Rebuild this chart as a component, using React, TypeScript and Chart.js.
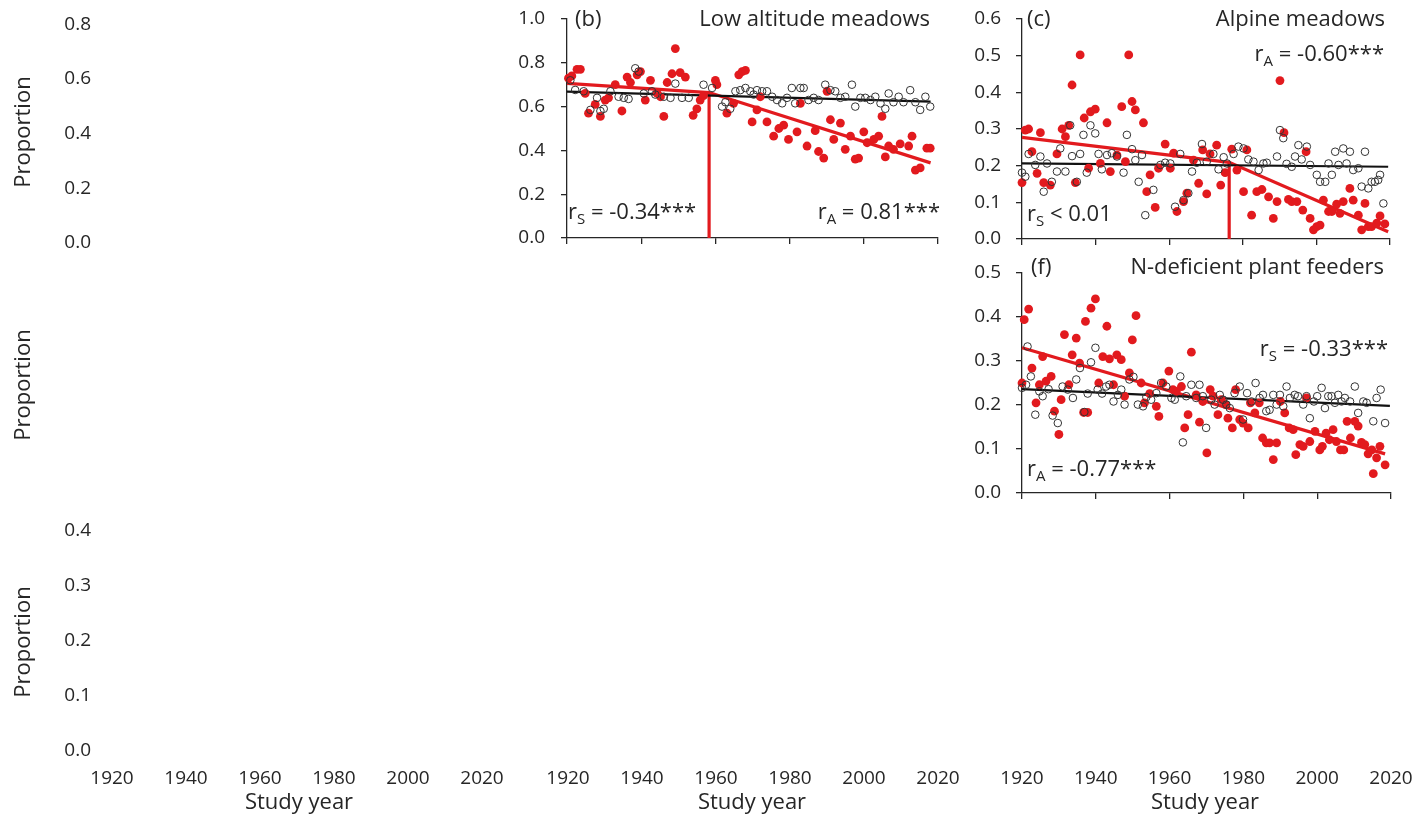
import React, { useEffect, useRef } from "react";
import { Chart, registerables } from "chart.js";
Chart.register(...registerables);

const FONT = "'Open Sans', 'Noto Sans', sans-serif";
const RED = "rgb(226, 26, 30)";
const INK = "#262626";

// ---------- Panel (b) Low altitude meadows ----------
const bRedYears = [1920.4,1921.3,1922.7,1923.6,1924.9,1925.8,1927.6,1929.0,1930.3,1931.2,1933.0,1934.8,1936.2,1937.1,1938.9,1939.8,1941.1,1942.5,1944.3,1945.2,1946.1,1947.0,1948.3,1949.2,1950.5,1951.9,1954.0,1955.0,1955.9,1956.8,1960.0,1960.4,1963.1,1964.9,1966.3,1967.2,1968.1,1969.9,1971.2,1972.1,1973.9,1975.7,1977.1,1978.4,1979.7,1982.0,1982.9,1984.7,1986.9,1987.8,1989.2,1990.1,1991.0,1991.9,1993.7,1995.0,1996.4,1997.7,1998.6,2000.0,2000.9,2002.7,2004.0,2004.9,2005.8,2006.7,2008.0,2009.8,2012.1,2013.0,2013.9,2015.2,2017.0,2017.9];
const bRedValues = [0.73,0.74,0.77,0.77,0.66,0.57,0.61,0.555,0.63,0.64,0.70,0.58,0.735,0.71,0.745,0.76,0.63,0.72,0.66,0.645,0.555,0.71,0.75,0.865,0.755,0.735,0.56,0.59,0.63,0.65,0.72,0.70,0.57,0.615,0.745,0.76,0.765,0.53,0.585,0.645,0.53,0.465,0.50,0.515,0.45,0.485,0.615,0.42,0.49,0.395,0.365,0.67,0.54,0.45,0.525,0.405,0.465,0.36,0.365,0.485,0.435,0.45,0.465,0.555,0.37,0.42,0.405,0.43,0.42,0.465,0.31,0.32,0.41,0.41];
const bOpenYears = [1920.9,1922.2,1924.5,1926.3,1928.1,1929.0,1929.9,1931.7,1933.9,1935.3,1936.6,1938.4,1939.3,1940.7,1942.9,1943.8,1946.1,1947.9,1949.2,1951.0,1952.8,1956.8,1959.1,1961.8,1962.7,1964.0,1965.4,1966.7,1968.1,1969.4,1970.3,1971.2,1972.6,1973.9,1975.3,1976.6,1978.0,1979.3,1980.6,1981.5,1982.9,1983.8,1985.1,1986.5,1987.8,1989.6,1991.0,1992.3,1993.7,1995.0,1996.8,1997.7,1999.1,2000.4,2001.8,2003.1,2004.5,2005.8,2006.7,2008.0,2009.4,2010.7,2012.5,2013.9,2015.2,2016.6,2017.9];
const bOpenValues = [0.72,0.676,0.67,0.585,0.64,0.58,0.59,0.67,0.645,0.64,0.635,0.775,0.76,0.66,0.67,0.655,0.645,0.64,0.705,0.64,0.64,0.70,0.685,0.60,0.62,0.59,0.67,0.675,0.685,0.67,0.655,0.675,0.67,0.67,0.645,0.63,0.615,0.64,0.685,0.615,0.685,0.685,0.63,0.64,0.63,0.70,0.675,0.67,0.64,0.645,0.70,0.60,0.64,0.64,0.63,0.645,0.615,0.59,0.66,0.62,0.645,0.62,0.675,0.62,0.585,0.645,0.60];
const bBlackFitYears = [1920, 2018];
const bBlackFitValues = [0.668, 0.623];
const bRedFitYears = [1920, 1958.3, 2018];
const bRedFitValues = [0.706, 0.664, 0.343];
const bBreakYears = [1958.3, 1958.3];
const bBreakValues = [0, 0.664];

// ---------- Panel (c) Alpine meadows ----------
const cRedYears = [1920.0,1920.9,1921.8,1922.7,1924.1,1925.0,1925.9,1927.7,1929.5,1930.9,1931.8,1932.7,1933.6,1934.5,1935.8,1936.9,1938.1,1938.6,1939.9,1941.3,1943.1,1944.0,1945.8,1947.1,1948.1,1949.0,1949.9,1950.8,1953.0,1953.9,1954.8,1956.2,1957.1,1958.9,1960.3,1961.2,1962.1,1963.9,1964.8,1966.6,1968.0,1969.1,1970.2,1971.1,1972.9,1974.0,1975.2,1977.0,1978.4,1980.2,1981.1,1982.4,1983.8,1985.2,1987.0,1988.3,1989.3,1990.1,1991.2,1992.4,1993.3,1994.7,1996.3,1997.2,1998.3,1999.2,2000.1,2001.0,2001.9,2003.3,2004.2,2005.5,2006.4,2007.3,2009.1,2010.0,2011.4,2012.3,2013.2,2014.1,2015.0,2016.4,2017.3,2018.6];
const cRedValues = [0.154,0.297,0.30,0.238,0.179,0.29,0.154,0.147,0.232,0.30,0.279,0.31,0.42,0.154,0.502,0.33,0.193,0.347,0.354,0.206,0.317,0.184,0.229,0.361,0.211,0.502,0.375,0.352,0.317,0.129,0.175,0.086,0.193,0.259,0.193,0.234,0.075,0.102,0.125,0.215,0.152,0.243,0.123,0.232,0.256,0.147,0.181,0.245,0.188,0.129,0.243,0.065,0.129,0.135,0.115,0.056,0.102,0.432,0.29,0.108,0.102,0.102,0.079,0.238,0.056,0.025,0.034,0.038,0.106,0.075,0.075,0.095,0.07,0.102,0.138,0.106,0.065,0.025,0.097,0.034,0.034,0.043,0.063,0.041];
const cOpenYears = [1920.0,1920.9,1921.8,1923.6,1925.0,1925.9,1926.8,1928.1,1929.5,1930.4,1931.8,1933.1,1933.6,1934.9,1935.8,1936.7,1937.6,1938.6,1939.9,1940.8,1941.7,1943.1,1944.4,1945.8,1947.6,1948.5,1949.9,1950.8,1951.7,1952.6,1953.5,1955.7,1957.6,1958.9,1960.3,1961.6,1963.0,1963.9,1965.2,1966.2,1967.5,1968.9,1970.2,1972.0,1973.4,1974.8,1975.7,1977.5,1978.8,1980.2,1981.5,1982.9,1984.3,1985.6,1986.5,1989.3,1990.1,1991.0,1991.9,1993.3,1994.2,1995.1,1996.0,1997.4,1998.3,2000.1,2001.0,2002.4,2003.3,2004.2,2005.1,2006.0,2007.3,2008.2,2009.1,2010.0,2011.4,2012.3,2013.2,2014.1,2015.0,2015.9,2016.8,2017.3,2018.2];
const cOpenValues = [0.181,0.17,0.232,0.202,0.225,0.129,0.206,0.156,0.184,0.247,0.184,0.31,0.226,0.156,0.232,0.284,0.181,0.31,0.288,0.232,0.19,0.229,0.234,0.225,0.181,0.284,0.245,0.215,0.156,0.229,0.065,0.134,0.202,0.208,0.206,0.088,0.232,0.106,0.125,0.184,0.208,0.259,0.211,0.232,0.19,0.223,0.206,0.232,0.252,0.247,0.217,0.211,0.188,0.206,0.208,0.225,0.297,0.275,0.205,0.197,0.225,0.256,0.217,0.252,0.202,0.175,0.156,0.156,0.206,0.175,0.238,0.202,0.247,0.206,0.238,0.188,0.193,0.143,0.238,0.138,0.156,0.156,0.161,0.175,0.097];
const cBlackFitYears = [1920, 2019.5];
const cBlackFitValues = [0.206, 0.197];
const cRedFitYears = [1920, 1976.3, 2019.5];
const cRedFitValues = [0.277, 0.209, 0.02];
const cBreakYears = [1976.3, 1976.3];
const cBreakValues = [0, 0.209];

// ---------- Panel (f) N-deficient plant feeders ----------
const fRedYears = [1920.0,1920.6,1921.8,1922.7,1923.8,1924.7,1925.6,1926.5,1927.9,1928.8,1930.0,1930.6,1931.5,1932.7,1933.6,1934.7,1935.6,1936.7,1937.2,1937.8,1938.7,1939.9,1940.8,1941.9,1943.0,1943.7,1944.8,1945.7,1946.9,1947.8,1949.1,1949.9,1950.9,1952.3,1953.2,1954.6,1956.4,1957.1,1958.2,1959.8,1960.9,1961.8,1963.2,1964.1,1965.0,1965.9,1967.2,1968.1,1969.0,1970.1,1971.0,1971.8,1973.1,1974.0,1975.2,1975.8,1977.0,1977.9,1979.0,1979.9,1981.3,1981.9,1983.1,1984.3,1985.2,1986.2,1987.1,1988.1,1989.0,1990.0,1991.2,1992.4,1993.5,1994.2,1995.3,1996.2,1997.1,1998.0,1999.4,2000.7,2001.4,2002.4,2003.3,2004.3,2005.2,2006.3,2007.2,2008.1,2009.0,2010.2,2011.1,2012.0,2012.9,2013.8,2014.8,2015.2,2016.1,2017.0,2018.4];
const fRedValues = [0.25,0.394,0.418,0.284,0.205,0.246,0.31,0.254,0.265,0.186,0.133,0.212,0.36,0.246,0.314,0.352,0.295,0.183,0.39,0.183,0.42,0.441,0.25,0.31,0.379,0.305,0.246,0.314,0.303,0.22,0.273,0.348,0.403,0.25,0.205,0.226,0.197,0.174,0.25,0.277,0.235,0.231,0.242,0.148,0.178,0.32,0.223,0.161,0.208,0.091,0.235,0.22,0.178,0.212,0.201,0.17,0.148,0.235,0.167,0.159,0.148,0.205,0.182,0.205,0.125,0.114,0.114,0.076,0.114,0.208,0.182,0.148,0.144,0.087,0.11,0.106,0.216,0.117,0.14,0.098,0.106,0.136,0.121,0.144,0.117,0.098,0.098,0.163,0.125,0.163,0.152,0.115,0.11,0.089,0.098,0.044,0.08,0.106,0.064];
const fOpenYears = [1920.0,1921.1,1921.5,1922.4,1923.6,1924.7,1925.6,1927.2,1928.3,1929.7,1931.0,1932.4,1933.8,1934.7,1935.7,1936.9,1937.8,1938.7,1939.9,1940.5,1941.7,1942.8,1943.7,1944.8,1946.0,1946.9,1947.8,1949.1,1950.2,1951.4,1952.8,1953.7,1955.0,1956.4,1957.7,1959.1,1960.5,1961.4,1962.9,1963.6,1964.5,1965.9,1967.2,1968.1,1969.0,1969.9,1971.3,1972.2,1973.6,1974.5,1975.4,1976.3,1977.6,1979.0,1979.9,1981.0,1982.2,1983.3,1984.4,1985.3,1986.2,1987.1,1988.1,1989.0,1989.9,1990.8,1991.7,1992.6,1993.9,1994.8,1996.2,1997.1,1998.0,1999.1,2000.0,2001.2,2002.1,2003.0,2003.9,2004.8,2005.7,2006.6,2007.5,2008.9,2010.2,2011.1,2012.5,2013.4,2015.2,2016.1,2017.2,2018.4];
const fOpenValues = [0.239,0.246,0.333,0.265,0.178,0.231,0.22,0.236,0.176,0.159,0.242,0.235,0.216,0.258,0.284,0.184,0.226,0.297,0.33,0.235,0.226,0.242,0.246,0.208,0.223,0.235,0.201,0.258,0.264,0.201,0.197,0.218,0.212,0.227,0.25,0.242,0.216,0.212,0.265,0.115,0.22,0.246,0.216,0.246,0.22,0.148,0.212,0.201,0.223,0.212,0.201,0.193,0.227,0.242,0.167,0.227,0.208,0.25,0.216,0.223,0.186,0.189,0.223,0.201,0.223,0.197,0.242,0.216,0.223,0.22,0.201,0.22,0.17,0.208,0.22,0.239,0.193,0.22,0.22,0.205,0.223,0.208,0.216,0.208,0.242,0.182,0.208,0.205,0.163,0.216,0.235,0.159];
const fBlackFitYears = [1920, 2019.7];
const fBlackFitValues = [0.236, 0.198];
const fRedFitYears = [1920, 2018.4];
const fRedFitValues = [0.33, 0.089];

// ---------- Axes ----------
const yearMin = 1920;
const yearMax = 2020;
const yearStep = 20;

type Part = { t: string; sub?: boolean };
type TextItem = { x: number; y: number; parts: Part[]; align: "left" | "right" | "center"; size: number; rotate?: boolean };
type Rect = { l: number; t: number; r: number; b: number };

const zip = (xs: number[], ys: number[]) => xs.map((x, i) => ({ x, y: ys[i] }));

function openSet(xs: number[], ys: number[]) {
  return { data: zip(xs, ys), pointRadius: 3.8, pointBackgroundColor: "rgba(255,255,255,0)", pointBorderColor: "#333", pointBorderWidth: 1, showLine: false, clip: false };
}
function redSet(xs: number[], ys: number[]) {
  return { data: zip(xs, ys), pointRadius: 4.4, pointBackgroundColor: RED, pointBorderColor: RED, pointBorderWidth: 0, showLine: false, clip: false };
}
function lineSet(xs: number[], ys: number[], color: string, width: number) {
  return { data: zip(xs, ys), showLine: true, borderColor: color, borderWidth: width, pointRadius: 0, clip: false, tension: 0 };
}

const LP = 120, TP = 30, RP = 40, BP = 70;

function drawRich(ctx: CanvasRenderingContext2D, it: TextItem, ox: number, oy: number) {
  const base = `${it.size}px ${FONT}`;
  const sub = `${Math.round(it.size * 0.68)}px ${FONT}`;
  ctx.save();
  ctx.fillStyle = INK;
  ctx.textBaseline = "middle";
  ctx.textAlign = "left";
  let total = 0;
  for (const p of it.parts) { ctx.font = p.sub ? sub : base; total += ctx.measureText(p.t).width; }
  let x: number, y: number;
  if (it.rotate) {
    ctx.translate(it.x - ox, it.y - oy);
    ctx.rotate(-Math.PI / 2);
    x = -total / 2; y = 0;
  } else {
    x = it.x - ox; y = it.y - oy;
    if (it.align === "right") x -= total;
    else if (it.align === "center") x -= total / 2;
  }
  for (const p of it.parts) {
    ctx.font = p.sub ? sub : base;
    ctx.fillText(p.t, x, p.sub ? y + it.size * 0.32 : y);
    x += ctx.measureText(p.t).width;
  }
  ctx.restore();
}

type PanelProps = {
  rect: Rect;
  yMin: number; yMax: number; yStep: number;
  yLabels: boolean; yLine: boolean;
  xLabels: boolean; xLine: boolean;
  yPad: number; xPad: number;
  datasets: any[];
  texts: TextItem[];
};

function Panel(p: PanelProps) {
  const ref = useRef<HTMLCanvasElement | null>(null);
  const W = p.rect.r - p.rect.l + LP + RP;
  const H = p.rect.b - p.rect.t + TP + BP;
  const ox = p.rect.l - LP;
  const oy = p.rect.t - TP;
  useEffect(() => {
    const canvas = ref.current;
    if (!canvas) return;
    const textPlugin = {
      id: "panelTexts",
      afterDraw(chart: any) {
        const ctx = chart.ctx as CanvasRenderingContext2D;
        for (const it of p.texts) drawRich(ctx, it, ox, oy);
      },
    };
    const chart = new Chart(canvas, {
      type: "scatter",
      data: { datasets: p.datasets },
      options: {
        animation: false,
        responsive: false,
        maintainAspectRatio: false,
        events: [],
        layout: { padding: { top: TP, right: RP, left: 0, bottom: 0 } },
        plugins: { legend: { display: false }, tooltip: { enabled: false } },
        scales: {
          x: {
            type: "linear",
            min: yearMin,
            max: yearMax,
            afterFit: (s: any) => { s.height = BP; },
            border: { display: p.xLine, color: INK, width: 1.3 },
            grid: { display: p.xLine, drawOnChartArea: false, drawTicks: p.xLine, tickLength: 6, color: INK, lineWidth: 1.3 },
            ticks: {
              display: p.xLabels, stepSize: yearStep, padding: p.xPad, color: INK, maxRotation: 0, autoSkip: false,
              font: { family: FONT, size: 19 },
              callback: (v: any) => String(v),
            },
          },
          y: {
            type: "linear",
            min: p.yMin,
            max: p.yMax,
            afterFit: (s: any) => { s.width = LP; },
            border: { display: p.yLine, color: INK, width: 1.3 },
            grid: { display: p.yLine, drawOnChartArea: false, drawTicks: p.yLine, tickLength: 6, color: INK, lineWidth: 1.3 },
            ticks: {
              display: p.yLabels, stepSize: p.yStep, padding: p.yPad, color: INK, autoSkip: false,
              font: { family: FONT, size: 19 },
              callback: (v: any) => Number(v).toFixed(1),
            },
          },
        },
      } as any,
      plugins: [textPlugin],
    });
    return () => chart.destroy();
  }, []);
  return (
    <canvas
      ref={ref}
      width={W}
      height={H}
      style={{ position: "absolute", left: ox, top: oy, width: W, height: H }}
    />
  );
}

const T = (x: number, y: number, parts: Part[], align: "left" | "right" | "center", size = 22, rotate = false): TextItem => ({ x, y, parts, align, size, rotate });

export default function App() {
  const prop = (y: number) => T(24, y, [{ t: "Proportion" }], "center", 22, true);
  const study = (x: number) => T(x, 803, [{ t: "Study year" }], "center", 22);
  return (
    <div style={{ position: "fixed", left: 0, top: 0, width: 1421, height: 816, overflow: "hidden", background: "#fff" }}>
      {/* row 1, col 1 (blank panel, tick labels only) */}
      <Panel rect={{ l: 112, t: 22, r: 482, b: 243 }} yMin={0} yMax={0.8} yStep={0.2}
        yLabels yLine={false} xLabels={false} xLine={false} yPad={21} xPad={0}
        datasets={[]} texts={[prop(132)]} />
      {/* row 2, col 1 (blank) */}
      <Panel rect={{ l: 112, t: 273, r: 482, b: 493 }} yMin={0} yMax={0.5} yStep={0.1}
        yLabels={false} yLine={false} xLabels={false} xLine={false} yPad={21} xPad={0}
        datasets={[]} texts={[prop(385)]} />
      {/* row 3, col 1 */}
      <Panel rect={{ l: 112, t: 528, r: 482, b: 751 }} yMin={0} yMax={0.4} yStep={0.1}
        yLabels yLine={false} xLabels xLine={false} yPad={21} xPad={16}
        datasets={[]} texts={[prop(642), study(299)]} />
      {/* row 3, col 2 */}
      <Panel rect={{ l: 568, t: 528, r: 938, b: 751 }} yMin={0} yMax={0.4} yStep={0.1}
        yLabels={false} yLine={false} xLabels xLine={false} yPad={21} xPad={16}
        datasets={[]} texts={[study(752)]} />
      {/* row 3, col 3 */}
      <Panel rect={{ l: 1022, t: 528, r: 1391, b: 751 }} yMin={0} yMax={0.4} yStep={0.1}
        yLabels={false} yLine={false} xLabels xLine={false} yPad={21} xPad={16}
        datasets={[]} texts={[study(1205)]} />
      {/* (b) */}
      <Panel rect={{ l: 567, t: 19, r: 938, b: 238 }} yMin={0} yMax={1.0} yStep={0.2}
        yLabels yLine xLabels={false} xLine yPad={16} xPad={0}
        datasets={[
          openSet(bOpenYears, bOpenValues),
          redSet(bRedYears, bRedValues),
          lineSet(bBlackFitYears, bBlackFitValues, "#111", 2.2),
          lineSet(bRedFitYears, bRedFitValues, RED, 3.2),
          lineSet(bBreakYears, bBreakValues, RED, 3.2),
        ]}
        texts={[
          T(575, 20, [{ t: "(b)" }], "left"),
          T(930, 20, [{ t: "Low altitude meadows" }], "right"),
          T(568, 213, [{ t: "r" }, { t: "S", sub: true }, { t: " = -0.34***" }], "left"),
          T(940, 213, [{ t: "r" }, { t: "A", sub: true }, { t: " = 0.81***" }], "right"),
        ]} />
      {/* (c) */}
      <Panel rect={{ l: 1022, t: 19, r: 1390, b: 239 }} yMin={0} yMax={0.6} yStep={0.1}
        yLabels yLine xLabels={false} xLine yPad={15} xPad={0}
        datasets={[
          openSet(cOpenYears, cOpenValues),
          redSet(cRedYears, cRedValues),
          lineSet(cBlackFitYears, cBlackFitValues, "#111", 2.2),
          lineSet(cRedFitYears, cRedFitValues, RED, 3.2),
          lineSet(cBreakYears, cBreakValues, RED, 3.2),
        ]}
        texts={[
          T(1027, 20, [{ t: "(c)" }], "left"),
          T(1385, 20, [{ t: "Alpine meadows" }], "right"),
          T(1384, 55, [{ t: "r" }, { t: "A", sub: true }, { t: " = -0.60***" }], "right"),
          T(1027, 215, [{ t: "r" }, { t: "S", sub: true }, { t: " < 0.01" }], "left"),
        ]} />
      {/* (f) */}
      <Panel rect={{ l: 1022, t: 273, r: 1391, b: 493 }} yMin={0} yMax={0.5} yStep={0.1}
        yLabels yLine xLabels={false} xLine yPad={15} xPad={0}
        datasets={[
          openSet(fOpenYears, fOpenValues),
          redSet(fRedYears, fRedValues),
          lineSet(fBlackFitYears, fBlackFitValues, "#111", 2.2),
          lineSet(fRedFitYears, fRedFitValues, RED, 3.2),
        ]}
        texts={[
          T(1031, 268, [{ t: "(f)" }], "left"),
          T(1384, 268, [{ t: "N-deficient plant feeders" }], "right"),
          T(1388, 350, [{ t: "r" }, { t: "S", sub: true }, { t: " = -0.33***" }], "right"),
          T(1027, 470, [{ t: "r" }, { t: "A", sub: true }, { t: " = -0.77***" }], "left"),
        ]} />
    </div>
  );
}
